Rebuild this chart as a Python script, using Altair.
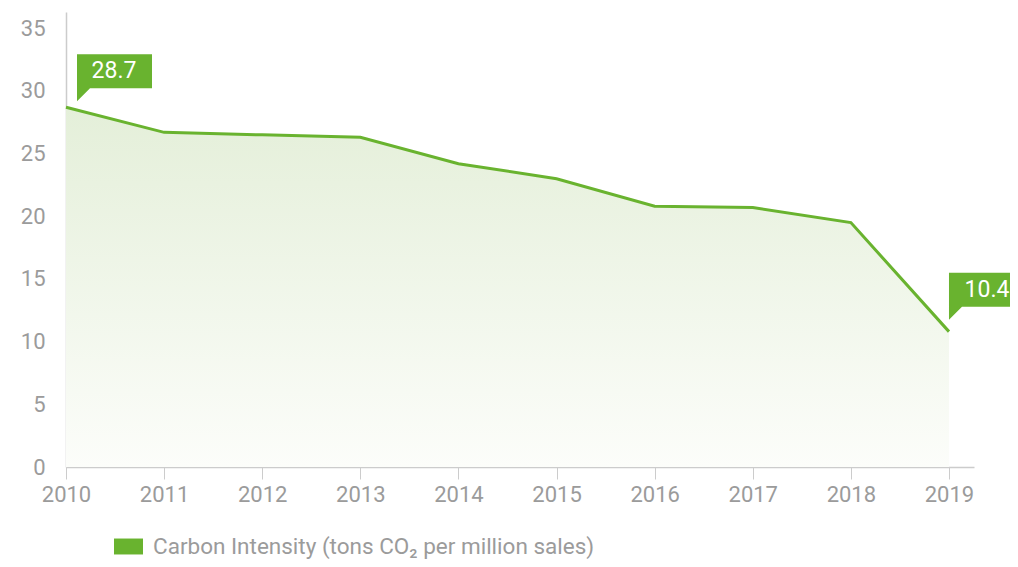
import altair as alt
import pandas as pd

years = [2010, 2011, 2012, 2013, 2014, 2015, 2016, 2017, 2018, 2019]
intensity = [28.7, 26.7, 26.5, 26.3, 24.2, 23.0, 20.8, 20.7, 19.5, 10.8]
callout_years = [2010, 2019]
callout_labels = ["28.7", "10.4"]
series_name = "Carbon Intensity (tons CO\u2082 per million sales)"
x_ticks = years
y_ticks = [0, 5, 10, 15, 20, 25, 30, 35]

GREEN = "#69b32f"
GREY = "#9b9b9b"
AXIS = "#cccccc"
FONT = "Roboto"

df = pd.DataFrame({"year": years, "value": intensity})
df["series"] = series_name
lab = dict(zip(callout_years, callout_labels))
df["label"] = [lab.get(y, "") for y in years]

xs = alt.Scale(domain=[2010, 2019.255], nice=False, zero=False)
ys = alt.Scale(domain=[0, 36.3], nice=False)

xax = alt.Axis(values=x_ticks, format="d", title=None, grid=False, domainColor=AXIS,
               tickColor=AXIS, tickSize=12, labelColor=GREY, labelFontSize=22,
               labelFont=FONT, labelPadding=5, labelFlush=False, domainWidth=1.5)
yax = alt.Axis(values=y_ticks, title=None, grid=False, domainColor=AXIS, ticks=False,
               tickSize=0, labelColor=GREY, labelFontSize=22, labelFont=FONT,
               labelPadding=21, domainWidth=1.5)

base = alt.Chart(df)
X = alt.X("year:Q", scale=xs, axis=xax)
Y = alt.Y("value:Q", scale=ys, axis=yax)

area = base.mark_area(
    color=alt.Gradient(
        gradient="linear",
        stops=[alt.GradientStop(color="#e4efd9", offset=0),
               alt.GradientStop(color="#fcfdfa", offset=1)],
        x1=1, x2=1, y1=0, y2=1,
    )
).encode(x=X, y=Y)

line = base.mark_line(color=GREEN, strokeWidth=3).encode(x=X, y=Y)

legend_layer = base.mark_rect().encode(
    x=alt.X("year:Q", scale=xs),
    x2=alt.X2("year:Q"),
    y=alt.Y("value:Q", scale=ys),
    y2=alt.Y2("value:Q"),
    color=alt.Color(
        "series:N",
        scale=alt.Scale(range=[GREEN]),
        legend=alt.Legend(
            title=None, orient="none", legendX=48, legendY=520, padding=0,
            symbolType="M-1,-0.55L1,-0.55L1,0.55L-1,0.55Z", symbolSize=841,
            symbolStrokeWidth=0, labelFontSize=22.5, labelFont=FONT,
            labelColor=GREY, labelOffset=10, labelLimit=0,
        ),
    ),
)

c1 = df[df.year == 2010]
c2 = df[df.year == 2019]

box1 = alt.Chart(c1).mark_point(
    shape="M11,-53H86V-19H24L11,-6Z", size=4, filled=True, fill=GREEN,
    opacity=1, strokeWidth=0
).encode(x=alt.X("year:Q", scale=xs), y=alt.Y("value:Q", scale=ys))
txt1 = alt.Chart(c1).mark_text(
    color="white", fontSize=23, font=FONT, dx=48, dy=-36, align="center", baseline="middle"
).encode(x=alt.X("year:Q", scale=xs), y=alt.Y("value:Q", scale=ys), text="label:N")

box2 = alt.Chart(c2).mark_point(
    shape="M0,-59H75V-25H13L0,-12Z", size=4, filled=True, fill=GREEN,
    opacity=1, strokeWidth=0
).encode(x=alt.X("year:Q", scale=xs), y=alt.Y("value:Q", scale=ys))
txt2 = alt.Chart(c2).mark_text(
    color="white", fontSize=23, font=FONT, dx=38, dy=-42, align="center", baseline="middle"
).encode(x=alt.X("year:Q", scale=xs), y=alt.Y("value:Q", scale=ys), text="label:N")

chart = alt.layer(area, line, legend_layer, box1, txt1, box2, txt2).properties(
    width=908, height=455,
    autosize=alt.AutoSizeParams(type="none"),
    padding={"left": 58, "top": 4, "right": 36, "bottom": 92},
).configure_view(stroke=None)

chart.save("out.html", embed_options={"renderer": "svg", "actions": False})
